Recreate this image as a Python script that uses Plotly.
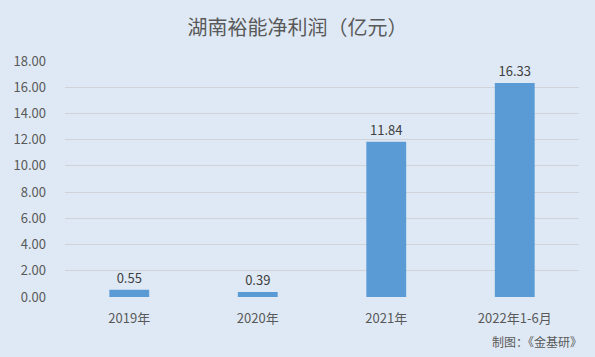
import plotly.graph_objects as go

categories = ["2019年", "2020年", "2021年", "2022年1-6月"]
values = [0.55, 0.39, 11.84, 16.33]
tick_vals = [0, 2, 4, 6, 8, 10, 12, 14, 16, 18]
tick_text = ["0.00", "2.00", "4.00", "6.00", "8.00", "10.00", "12.00", "14.00", "16.00", "18.00"]

FONT = "Noto Sans CJK SC"
bg = "#dfe9f5"

fig = go.Figure(go.Bar(
    x=categories, y=values,
    marker=dict(color="#5b9bd5", line=dict(width=0)),
    width=0.31,
    text=[f"{v:.2f}" for v in values],
    textposition="outside",
    cliponaxis=False,
    textfont=dict(family=FONT, size=13, color="#404040"),
))

fig.update_layout(
    width=595, height=357,
    paper_bgcolor=bg, plot_bgcolor=bg,
    margin=dict(l=65, r=16, t=61, b=60),
    showlegend=False,
    title=dict(text="湖南裕能净利润（亿元）", x=0.5, xanchor="center", y=0.922, yanchor="middle",
               font=dict(family=FONT, size=20, color="#595959")),
    xaxis=dict(showgrid=False, showline=False, ticks="", ticklabelstandoff=12,
               tickfont=dict(family=FONT, size=13, color="#595959")),
    yaxis=dict(range=[0, 18], tickvals=tick_vals, ticktext=tick_text, showgrid=True,
               gridcolor="#d0d3d8", gridwidth=1, zeroline=False, showline=False, ticks="",
               ticklabelstandoff=18,
               tickfont=dict(family=FONT, size=13, color="#595959")),
    annotations=[dict(text="制图：《金基研》", xref="paper", yref="paper", x=1.01, y=-0.19,
                      xanchor="right", yanchor="middle", showarrow=False,
                      font=dict(family=FONT, size=12, color="#595959"))],
)

fig.write_html("out.html", config={"displayModeBar": False},
               post_script="document.body.style.margin='0';")
